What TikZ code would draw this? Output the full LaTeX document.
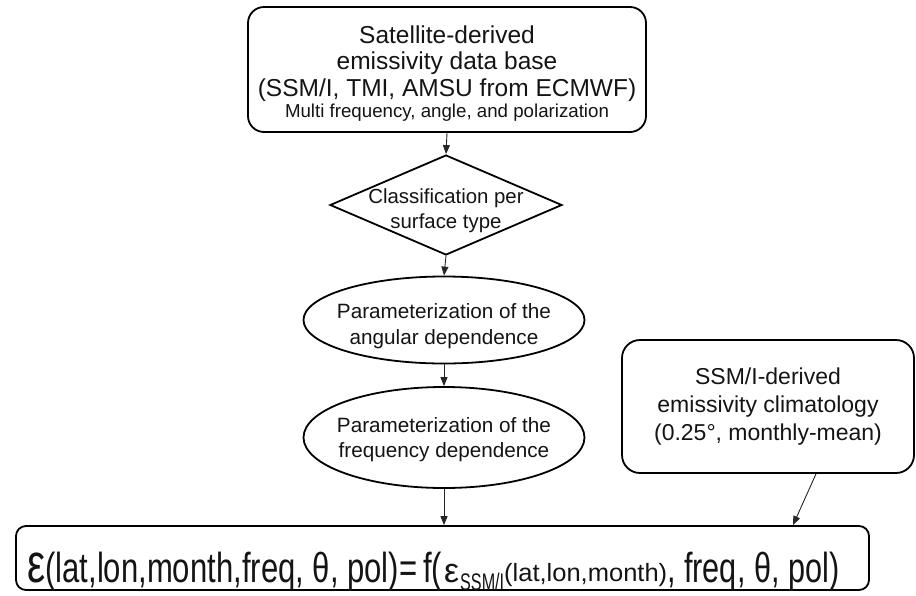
\documentclass[tikz,border=0pt]{standalone}
\usepackage{fontspec}
\usepackage{graphicx}
\setmainfont{Liberation Sans}
\usetikzlibrary{shapes.geometric,arrows.meta,calc}
\newcommand{\fpiece}[3]{\resizebox{#1}{\height}{\fontsize{#2}{#2}\selectfont #3}}
\begin{document}
\begin{tikzpicture}[x=1pt,y=-1pt,
  boxshape/.style={draw=black, line width=1.8pt, inner sep=0pt, align=center},
  ovalshape/.style={draw=black, line width=1.8pt, ellipse, inner sep=0pt},
  diamshape/.style={draw=black, line width=1.8pt, diamond, inner sep=0pt},
  txt/.style={align=center, inner sep=0pt, text=black!92},
  arr/.style={draw=black!85, line width=0.9pt, -{Triangle[length=9pt,width=7pt]}},
]
\useasboundingbox (0,0) rectangle (916,595);

% top data base box
\node[boxshape, rounded corners=16pt, minimum width=398pt, minimum height=125pt] (db) at (447,69.5) {};
\node[txt, font=\fontsize{24.5}{26.5}\selectfont] (dbt) at (447,73.5)
  {Satellite-derived\\emissivity data base\\(SSM/I, TMI, AMSU from ECMWF)\\[-5pt]
   {\fontsize{18.7}{22}\selectfont Multi frequency, angle, and polarization}};

% classification diamond
\node[diamshape, minimum width=232pt, minimum height=100pt] (cls) at (446,205) {};
\node[txt, font=\fontsize{20.4}{25}\selectfont] (clst) at (446,211) {Classification per\\surface type};

% angular ellipse
\node[ovalshape, minimum width=281pt, minimum height=87pt] (ang) at (444,320) {};
\node[txt, font=\fontsize{20.7}{26}\selectfont] (angt) at (444,326) {Parameterization of the\\angular dependence};

% frequency ellipse
\node[ovalshape, minimum width=281pt, minimum height=101pt] (frq) at (444,437.5) {};
\node[txt, font=\fontsize{20.7}{25}\selectfont] (frqt) at (444,440) {Parameterization of the\\frequency dependence};

% climatology box
\node[boxshape, rounded corners=18pt, minimum width=292pt, minimum height=133pt,
      text=black!92, font=\fontsize{23}{28}\selectfont] (clim) at (768,406.5)
  {SSM/I-derived\\emissivity climatology\\(0.25°, monthly-mean)};

% formula box
\node[boxshape, rounded corners=10pt, minimum width=853pt, minimum height=64pt] (fb) at (442.5,558) {};
\node[anchor=base west, inner sep=0pt, text=black!92] (ft) at (27,582)
  {\hbox{\fpiece{390pt}{42}{{\fontsize{55}{55}\selectfont ε}(lat,lon,month,freq, θ, pol)=}\hspace{6pt}%
   \fpiece{19pt}{42}{f(}\hspace{2pt}%
   \fpiece{15pt}{34}{ε}\hspace{1pt}%
   \raisebox{-8pt}{\fpiece{44pt}{24}{SSM/I}}%
   \raisebox{1pt}{\fpiece{163pt}{25}{(lat,lon,month)}}%
   \fpiece{172pt}{42}{, freq, θ, pol)}}};

% connectors
\draw[arr] (db.south) -- (cls.north);
\draw[arr] (cls.south) -- (ang.north);
\draw[arr] (ang.south) -- (frq.north);
\draw[arr] (frq.south) -- (frq.south |- fb.north);
\draw[arr] ([xshift=48pt]clim.south) -- ([xshift=350.5pt]fb.north);
\end{tikzpicture}
\end{document}
